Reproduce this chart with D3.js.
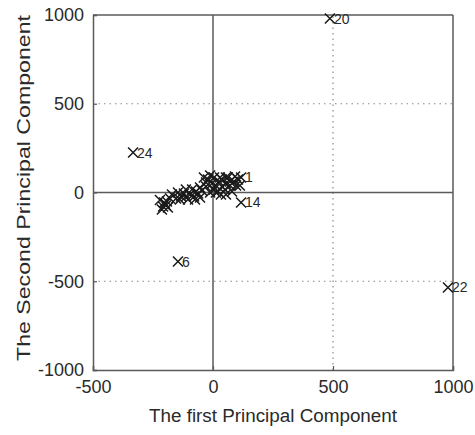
<!DOCTYPE html>
<html>
<head>
<meta charset="utf-8">
<script src="https://cdn.jsdelivr.net/npm/d3@7"></script>
<style>
  html, body { margin: 0; padding: 0; background: #fff; }
  svg { display: block; }
  text { font-family: "Liberation Sans", Arial, sans-serif; fill: #2a2a2a; }
</style>
</head>
<body>
<svg id="chart" width="475" height="435"></svg>
<script>
// ---- data ----
const pcX = [487, 979, -333, -146, 117, 117,
  -200, -196, -204, -192, -208, -154, -133, -113, -96, -79, -62, -46, -29, -21,
  -4, 12, 25, 37, 54, 71, 87, 104, 4, 21, -12, 50, -54, -104, 29, 62,
  -221, -188, -213, -179, -171, -146, -121, -87, -71, -54, -113, -138, -75,
  -38, -12, 4, -29, 12, 37, 54, 71, 92, 96, 79, 54, 112, 33];
const pcY = [980, -535, 225, -389, -56, 85,
  -62, -73, -56, -51, -79, -34, -23, -23, -11, -23, -6, 11, 34, 73,
  51, 39, 62, 34, 51, 39, 62, 73, 17, 6, 0, 17, -28, -39, 85, 85,
  -42, -85, -96, -34, -11, 0, -6, 17, 6, 28, 17, -39, -39,
  85, 96, 85, 56, 0, 73, 85, 62, 90, 39, 6, -11, 39, -11];
const pointLabels = ["20", "22", "24", "6", "14", "1"];
const xTicks = [-500, 0, 500, 1000];
const yTicks = [-1000, -500, 0, 500, 1000];
const xTitle = "The first Principal Component";
const yTitle = "The Second Principal Component";

const svg = d3.select("#chart");
const x = d3.scaleLinear().domain([-500, 1000]).range([93, 453]);
const y = d3.scaleLinear().domain([-1000, 1000]).range([370, 15]);

const gridCol = "#8a8a8a", axisCol = "#5a5a5a";

// dotted grid lines
const g = svg.append("g");
g.selectAll("line.gy").data(yTicks.filter(v => v !== 0 && Math.abs(v) !== 1000)).join("line")
  .attr("x1", x(-500)).attr("x2", x(1000))
  .attr("y1", d => y(d)).attr("y2", d => y(d))
  .attr("stroke", gridCol).attr("stroke-width", 1.2).attr("stroke-dasharray", "1.5,4");
g.selectAll("line.gx").data(xTicks.filter(v => v !== 0 && v !== -500 && v !== 1000)).join("line")
  .attr("y1", y(-1000)).attr("y2", y(1000))
  .attr("x1", d => x(d)).attr("x2", d => x(d))
  .attr("stroke", gridCol).attr("stroke-width", 1.2).attr("stroke-dasharray", "1.5,4");

// zero lines
svg.append("line").attr("x1", x(-500)).attr("x2", x(1000)).attr("y1", y(0)).attr("y2", y(0))
  .attr("stroke", axisCol).attr("stroke-width", 1.5);
svg.append("line").attr("x1", x(0)).attr("x2", x(0)).attr("y1", y(-1000)).attr("y2", y(1000))
  .attr("stroke", axisCol).attr("stroke-width", 1.5);

// axes
const xAxis = d3.axisBottom(x).tickValues(xTicks).tickSize(-4).tickFormat(d => d);
const yAxis = d3.axisLeft(y).tickValues(yTicks).tickSize(-4).tickFormat(d => d);
const gx = svg.append("g").attr("transform", `translate(0,${y(-1000)})`).call(xAxis);
const gy = svg.append("g").attr("transform", `translate(${x(-500)},0)`).call(yAxis);
[gx, gy].forEach(a => {
  a.select(".domain").attr("stroke", axisCol).attr("stroke-width", 1.5);
  a.selectAll(".tick line").attr("stroke", axisCol).attr("stroke-width", 1.2);
  a.selectAll("text").style("font-size", "18px").attr("fill", "#2a2a2a")
    .style("font-family", '"Liberation Sans", Arial, sans-serif');
});
gx.selectAll(".tick text").attr("y", 10);
gy.selectAll(".tick text").attr("x", -9);
// top & right borders
svg.append("line").attr("x1", x(-500)).attr("x2", x(1000)).attr("y1", y(1000)).attr("y2", y(1000))
  .attr("stroke", axisCol).attr("stroke-width", 1.5);
svg.append("line").attr("x1", x(1000)).attr("x2", x(1000)).attr("y1", y(-1000)).attr("y2", y(1000))
  .attr("stroke", axisCol).attr("stroke-width", 1.5);

// markers
const pts = pcX.map((v, i) => ({ x: v, y: pcY[i], label: pointLabels[i] || "" }));
const s = 5;
const mk = svg.append("g").attr("stroke", "#1a1a1a").attr("stroke-width", 1.5).attr("fill", "none");
mk.selectAll("path").data(pts).join("path")
  .attr("d", d => {
    const cx = x(d.x), cy = y(d.y);
    return `M${cx - s},${cy - s}L${cx + s},${cy + s}M${cx - s},${cy + s}L${cx + s},${cy - s}`;
  });
svg.append("g").selectAll("text").data(pts.filter(d => d.label)).join("text")
  .attr("x", d => x(d.x) + 4).attr("y", d => y(d.y) + 5)
  .style("font-size", "14px").text(d => d.label);

// titles
svg.append("text").attr("x", 273).attr("y", 422).attr("text-anchor", "middle")
  .attr("textLength", 248).attr("lengthAdjust", "spacingAndGlyphs")
  .style("font-size", "18px").text(xTitle);
svg.append("text").attr("transform", "translate(30,188) rotate(-90)").attr("text-anchor", "middle")
  .attr("textLength", 346).attr("lengthAdjust", "spacingAndGlyphs")
  .style("font-size", "19px").text(yTitle);
</script>
</body>
</html>
